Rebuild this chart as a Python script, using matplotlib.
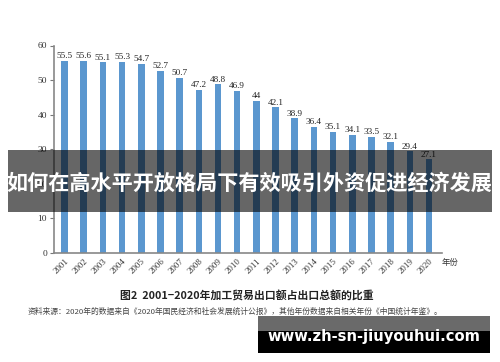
import matplotlib.pyplot as plt
from matplotlib.patches import Rectangle

years = [str(y) for y in range(2001, 2021)]
shares = [55.5, 55.6, 55.1, 55.3, 54.7, 52.7, 50.7, 47.2, 48.8, 46.9,
          44, 42.1, 38.9, 36.4, 35.1, 34.1, 33.5, 32.1, 29.4, 27.1]
share_labels = ["55.5", "55.6", "55.1", "55.3", "54.7", "52.7", "50.7", "47.2", "48.8", "46.9",
                "44", "42.1", "38.9", "36.4", "35.1", "34.1", "33.5", "32.1", "29.4", "27.1"]
y_ticks = [0, 10, 20, 30, 40, 50, 60]

banner_text = "如何在高水平开放格局下有效吸引外资促进经济发展"
caption = "图2  2001−2020年加工贸易出口额占出口总额的比重"
source = "资料来源：2020年的数据来自《2020年国民经济和社会发展统计公报》，其他年份数据来自相关年份《中国统计年鉴》。"
watermark = "www.zh-sn-jiuyouhui.com"

W, H = 500, 362
fig = plt.figure(figsize=(5, 3.62), dpi=100)
ax = fig.add_axes([54 / W, 1 - 253 / H, 388 / W, 207.5 / H])

x = list(range(len(years)))
ax.bar(x, shares, width=0.34, color="#5b97cf", zorder=2)
for xi, v, lab in zip(x, shares, share_labels):
    ax.annotate(lab, (xi, v), xytext=(0, 0.5), textcoords="offset points",
                ha="center", va="bottom", fontsize=6.6, family="Liberation Serif",
                color="#222222")

ax.set_xlim(-0.55, 19.68)
ax.set_ylim(0, 60)
ax.set_yticks(y_ticks)
ax.set_yticklabels([str(t) for t in y_ticks], family="Liberation Serif",
                   fontsize=6.8, color="#333333")
ax.set_xticks(x)
ax.set_xticklabels(years, rotation=45, ha="right", rotation_mode="anchor",
                   family="Liberation Serif", fontsize=6.4, color="#333333")
ax.tick_params(axis="x", length=0, pad=3)
ax.tick_params(axis="y", length=3, width=0.8, color="#777777", pad=2)
for s in ["top", "right"]:
    ax.spines[s].set_visible(False)
for s in ["left", "bottom"]:
    ax.spines[s].set_color("#888888")
    ax.spines[s].set_linewidth(1.2)

fig.text(450 / W, 1 - 263 / H, "年份", family="Noto Sans CJK SC", fontsize=6,
         color="#333333", ha="center", va="center")

fig.text(247 / W, 1 - 295 / H, caption, family=["Noto Sans CJK SC", "DejaVu Sans"],
         fontsize=7.8, fontweight="bold", color="#222222", ha="center", va="center")
fig.text(235 / W, 1 - 312 / H, source, family=["Noto Sans CJK SC", "DejaVu Sans"],
         fontsize=5.6, color="#444444", ha="center", va="center")

# dark banner over the chart
fig.add_artist(Rectangle((8 / W, 1 - 212 / H), 484 / W, 62 / H, transform=fig.transFigure,
                         facecolor="black", alpha=0.6, edgecolor="none", zorder=5))
fig.text(249 / W, 1 - 183 / H, banner_text, family="Noto Sans CJK SC", fontsize=15.2,
         fontweight="bold", color="white", ha="center", va="center", zorder=6)

# watermark box
fig.add_artist(Rectangle((258 / W, 1 - 331 / H), 232 / W, 15 / H, transform=fig.transFigure,
                         facecolor="#6a6a6a", edgecolor="none", zorder=5))
fig.add_artist(Rectangle((258 / W, 1 - 353 / H), 232 / W, 22 / H, transform=fig.transFigure,
                         facecolor="black", edgecolor="none", zorder=5))
fig.text(374 / W, 1 - 337 / H, watermark, family="DejaVu Sans", fontsize=10.6,
         fontweight="bold", color="white", ha="center", va="center", zorder=6)

fig.savefig("out.png", dpi=100)
